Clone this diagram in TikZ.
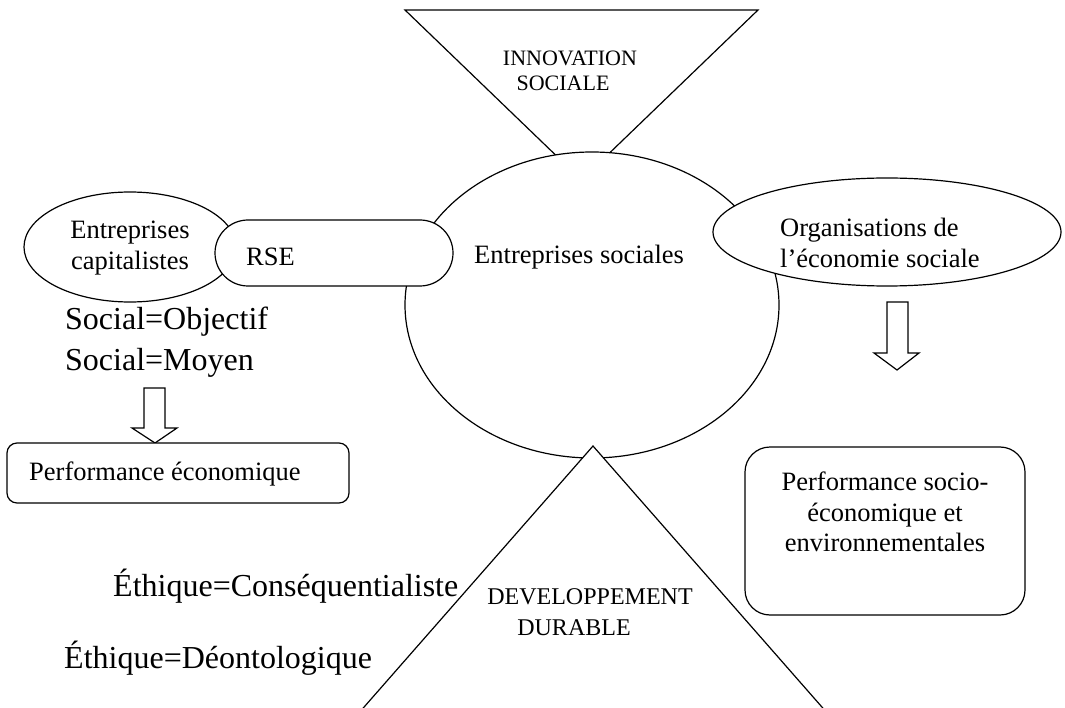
\documentclass[tikz,border=0pt]{standalone}
\usepackage{fontspec}
\setmainfont{Liberation Serif}
\usetikzlibrary{shapes.geometric}
\tikzset{
  ln/.style={line width=1.2pt, black},
  txt/.style={font=\fontsize{26.5}{30.5}\selectfont, inner sep=0pt},
  bigtxt/.style={font=\fontsize{32}{40}\selectfont, inner sep=0pt},
  captxt/.style={font=\fontsize{22}{25}\selectfont, inner sep=0pt},
  oval/.style={ln, draw, fill=white, ellipse, inner sep=0pt},
  roundbox/.style={ln, draw, fill=white, inner sep=0pt},
  blockarrow/.style={ln, draw, fill=white, line join=miter}
}
\begin{document}
\begin{tikzpicture}[x=1pt, y=-1pt]
\useasboundingbox (0,0) rectangle (1065,708);
\clip (0,0) rectangle (1065,708);
% top inverted triangle
\coordinate (tA) at (405,10);
\coordinate (tB) at (758,10);
\coordinate (tC) at (581.5,180);
\draw[ln, line join=miter] (tA) -- (tB) -- (tC) -- cycle;
\node[captxt] (inn1) at (570,58) {INNOVATION};
\node[captxt] (inn2) at (563,83) {SOCIALE};
% main ellipse
\node[oval, minimum width=374pt, minimum height=306pt] (es) at (592,305) {};
% bottom triangle
\coordinate (bA) at (593,446);
\coordinate (bB) at (265,820);
\coordinate (bC) at (921,820);
\filldraw[ln, fill=white, line join=miter] (bA) -- (bB) -- (bC) -- cycle;
\node[font=\fontsize{24}{28}\selectfont, inner sep=0pt] (dd1) at (590,597) {DEVELOPPEMENT};
\node[font=\fontsize{24}{28}\selectfont, inner sep=0pt] (dd2) at (574,628) {DURABLE};
% left ellipse
\node[oval, minimum width=212pt, minimum height=110pt] (ec) at (130,247) {};
\node[txt, align=center] (ectxt) at (130,248) {Entreprises\\capitalistes};
% RSE stadium
\node[roundbox, rounded corners=33pt, minimum width=238pt, minimum height=66pt] (rse) at (334,253) {};
\node[txt, anchor=west] (rsetxt) at (246,257) {RSE};
% text of main ellipse
\node[txt, anchor=west] (estxt) at (474,257) {Entreprises sociales};
% right ellipse
\node[oval, minimum width=348pt, minimum height=108pt] (oes) at (887,232) {};
\node[txt, align=left, anchor=west] (oestxt) at (780,243) {Organisations de\\l’économie sociale};
% social lines
\node[bigtxt, anchor=west] (so1) at (65,322) {Social=Objectif};
\node[bigtxt, anchor=west] (so2) at (65,363) {Social=Moyen};
% left block arrow
\draw[blockarrow] (144,388) -- (165,388) -- (165,428) -- (177,428) -- (155,443) -- (132,428) -- (144,428) -- cycle;
% performance economique
\node[roundbox, rounded corners=10pt, minimum width=342pt, minimum height=60pt] (pe) at (178,473) {};
\node[txt, anchor=west] (petxt) at (29,474) {Performance économique};
% right block arrow
\draw[blockarrow] (887,302) -- (908,302) -- (908,353) -- (919,353) -- (897,370) -- (874,353) -- (887,353) -- cycle;
% performance socio box
\node[roundbox, rounded corners=25pt, minimum width=280pt, minimum height=168pt] (ps) at (885,531) {};
\node[txt, align=center] (pstxt) at (885,512) {Performance socio-\\économique et\\environnementales};
% ethics
\node[bigtxt, anchor=west] (eth1) at (113,586) {Éthique=Conséquentialiste};
\node[bigtxt, anchor=west] (eth2) at (64,658) {Éthique=Déontologique};
\end{tikzpicture}
\end{document}
